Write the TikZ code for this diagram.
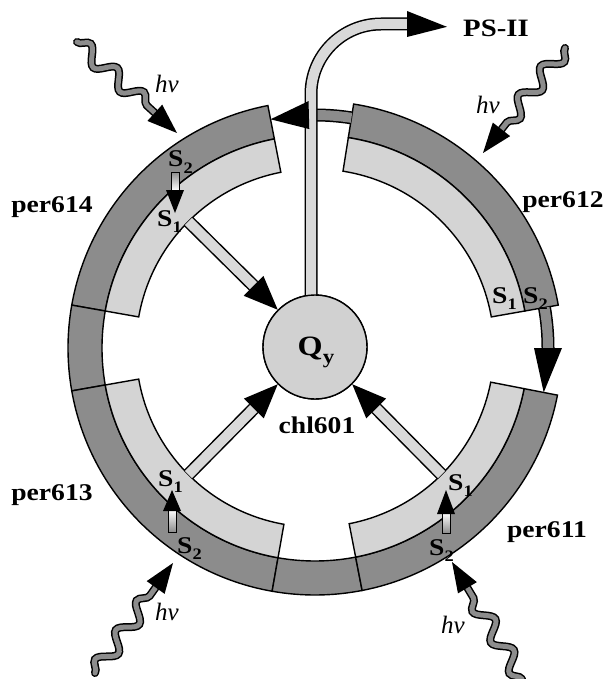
\documentclass[tikz,border=0pt]{standalone}
\usepackage{fontspec}
\setmainfont{Liberation Serif}
\newfontfamily\labfont[FakeStretch=1.15]{Liberation Serif}
\usetikzlibrary{calc,decorations.pathmorphing}

\definecolor{darkband}{gray}{0.55}
\definecolor{lightband}{gray}{0.83}
\definecolor{qyfill}{gray}{0.82}
\definecolor{stemfill}{gray}{0.85}

% one piece of the ring: #1,#2 angles (mathematical sense), #3 inner, #4 outer radius, #5 fill
\newcommand{\ringpiece}[5]{%
  \filldraw[fill=#5, draw=black, line width=1.4pt]
    ($(C)+(-#1:#4)$) arc[start angle=-#1, end angle=-#2, radius=#4]
    -- ($(C)+(-#2:#3)$) arc[start angle=-#2, end angle=-#1, radius=#3] -- cycle;}

% broad outlined arrow with a black head: #1 tail, #2 tip, #3 shaft colour
\newcommand{\fatarrow}[3]{%
  \coordinate (hb) at ($(#2)!34pt!(#1)$);
  \draw[line width=13pt] (#1) -- (hb);
  \draw[line width=10pt, color=#3] (#1) -- (hb);
  \fill ($(hb)!14pt!90:(#2)$) -- (#2) -- ($(hb)!14pt!-90:(#2)$) -- cycle;}

% wavy photon arrow: #1 start, #2 tip
\newcommand{\photon}[2]{%
  \coordinate (wb) at ($(#2)!30pt!(#1)$);
  \draw[waveline, line width=8pt] (#1) -- (wb);
  \draw[waveline, line width=5pt, color=darkband] (#1) -- (wb);
  \fill ($(wb)!11pt!90:(#2)$) -- (#2) -- ($(wb)!11pt!-90:(#2)$) -- cycle;}

\newcommand{\lowidx}[1]{\raisebox{-6pt}{\fontsize{16}{16}\selectfont #1}}

\begin{document}
\begin{tikzpicture}[x=1pt, y=-1pt,
  lab/.style={font=\labfont\bfseries\fontsize{24}{24}\selectfont, inner sep=0pt, anchor=base},
  slab/.style={font=\labfont\bfseries\fontsize{24}{24}\selectfont, inner sep=0pt, anchor=base west},
  hvlab/.style={font=\itshape\fontsize{25}{25}\selectfont, inner sep=0pt},
  waveline/.style={decorate, decoration={snake, amplitude=8pt, segment length=36pt}, line cap=round},
  smallshaft/.style={draw=black, line width=0.8pt},
]
\useasboundingbox (0,0) rectangle (606,679);
\coordinate (C) at (315,348);

% photons
\coordinate (wsTL) at (77,42);   \coordinate (tipTL) at (177,133);
\coordinate (wsTR) at (565,48);  \coordinate (tipTR) at (483,153);
\coordinate (wsBL) at (95,673);  \coordinate (tipBL) at (173,563);
\coordinate (wsBR) at (522,679); \coordinate (tipBR) at (452,562);
\photon{wsTL}{tipTL}
\photon{wsTR}{tipTR}
\photon{wsBL}{tipBL}
\photon{wsBR}{tipBR}

% ring: per614, link, per613, link, per611, per612
\ringpiece{101}{170}{213}{247}{darkband}
\ringpiece{101}{170}{179}{213}{lightband}
\ringpiece{170}{190}{213}{247}{darkband}
\ringpiece{190}{260}{213}{247}{darkband}
\ringpiece{190}{260}{179}{213}{lightband}
\ringpiece{260}{281}{213}{247}{darkband}
\ringpiece{281}{349}{213}{247}{darkband}
\ringpiece{281}{349}{179}{213}{lightband}
\ringpiece{10}{81}{213}{247}{darkband}
\ringpiece{10}{81}{179}{213}{lightband}

% transfer per612 -> per611 along the ring
\draw[line width=13pt] ($(C)+(-10:233)$) arc[start angle=-10, end angle=0, radius=233];
\draw[line width=10pt, color=darkband] ($(C)+(-10:233)$) arc[start angle=-10, end angle=0, radius=233];
\fill ($(C)+(0:247)$) -- ($(C)+(11:233)$) -- ($(C)+(0:219)$) -- cycle;

% transfer per612 -> per614 along the ring (shaft)
\draw[line width=13pt] ($(C)+(-81:233)$) arc[start angle=-81, end angle=-91.5, radius=233];
\draw[line width=10pt, color=darkband] ($(C)+(-81:233)$) arc[start angle=-81, end angle=-91.5, radius=233];

% central chlorophyll
\node[circle, draw=black, line width=1.4pt, fill=qyfill, minimum size=104pt, inner sep=0pt] (qy) at (315,347) {};

% S1 -> Qy transfer
\coordinate (t614) at ($(C)+(-135:179)$);
\coordinate (t613) at ($(C)+(135:179)$);
\coordinate (t611) at ($(C)+(45:179)$);
\fatarrow{t614}{qy.135}{stemfill}
\fatarrow{t613}{qy.-135}{stemfill}
\fatarrow{t611}{qy.-45}{stemfill}

% Qy -> PS-II
\node[lab, anchor=base west, font=\labfont\bfseries\fontsize{25}{25}\selectfont] (ps) at (463,37) {PS-II};
\coordinate (stembot) at (311,320);
\coordinate (stemknee) at (311,94);
\coordinate (stemend) at (407,24);
\coordinate (pstip) at ($(ps.west)+(-16,-2)$);
\draw[line width=13pt] (stembot) -- (stemknee) arc[start angle=180, end angle=270, radius=70] -- (stemend);
\draw[line width=10pt, color=stemfill] (stembot) -- (stemknee) arc[start angle=180, end angle=270, radius=70] -- (stemend);
\fill ($(stemend)+(0,-13)$) -- (pstip) -- ($(stemend)+(0,13)$) -- cycle;
% redraw circle on top of the stem foot
\node[circle, draw=black, line width=1.4pt, fill=qyfill, minimum size=104pt, inner sep=0pt] at (qy) {};
\node[font=\labfont\bfseries\fontsize{28}{28}\selectfont, inner sep=0pt] (qyl) at (316,352) {Q\raisebox{-8pt}{\fontsize{20}{20}\selectfont y}};

% head of the per612 -> per614 transfer
\fill ($(C)+(-91.5:247)$) -- ($(C)+(-101:233)$) -- ($(C)+(-91.5:219)$) -- cycle;

% labels
\node[lab] (l614) at (52,212) {per614};
\node[lab] (l612) at (563,207) {per612};
\node[lab] (l613) at (52,500) {per613};
\node[lab] (l611) at (547,537) {per611};
\node[lab] (lchl) at (317,433) {chl601};

\node[hvlab] (hv1) at (167,84) {hv};
\node[hvlab] (hv2) at (488,105) {hv};
\node[hvlab] (hv3) at (167,612) {hv};
\node[hvlab] (hv4) at (453,625) {hv};

% S levels
\node[slab] (s2a) at (168,167) {S\lowidx{2}};
\node[slab] (s1a) at (157,226) {S\lowidx{1}};
\node[slab] (s1b) at (158,486) {S\lowidx{1}};
\node[slab] (s2b) at (177,553) {S\lowidx{2}};
\node[slab] (s1c) at (448,490) {S\lowidx{1}};
\node[slab] (s2c) at (429,555) {S\lowidx{2}};
\node[slab] (s1d) at (492,303) {S\lowidx{1}};
\node[slab] (s2d) at (523,303) {S\lowidx{2}};

% internal conversion S2 -> S1
\shade[top color=darkband, bottom color=white] (171.5,172) rectangle (179,190);
\draw[smallshaft] (171.5,172) rectangle (179,190);
\fill (166,190) -- (184,190) -- (175,213) -- cycle;

\shade[top color=white, bottom color=darkband] (168,510) rectangle (176,532);
\draw[smallshaft] (168,510) rectangle (176,532);
\fill (163,511) -- (181,511) -- (172,490) -- cycle;

\shade[top color=white, bottom color=darkband] (442,513) rectangle (450,533);
\draw[smallshaft] (442,513) rectangle (450,533);
\fill (437,514) -- (455,514) -- (446,490) -- cycle;
\end{tikzpicture}
\end{document}
